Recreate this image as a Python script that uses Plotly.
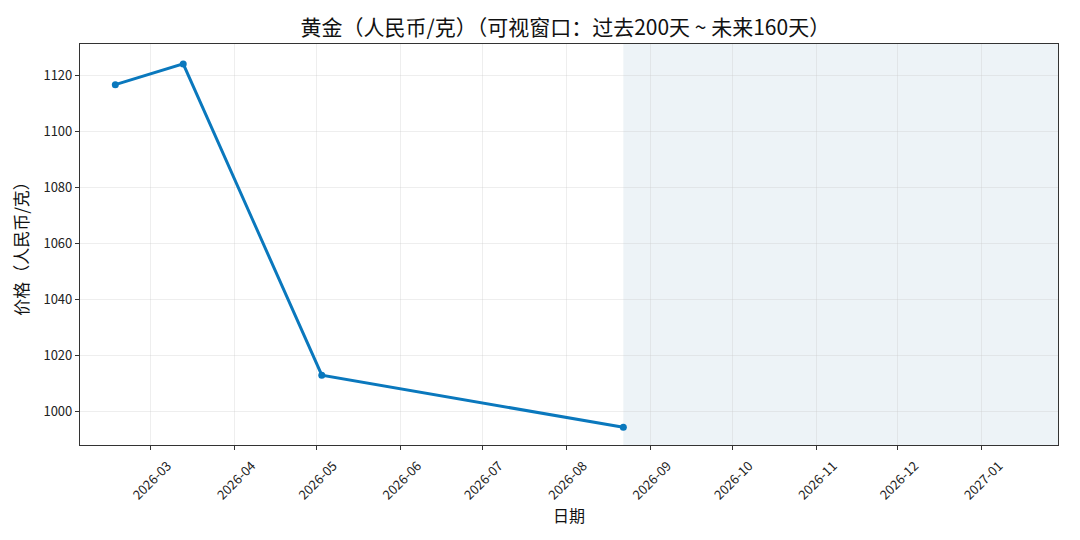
import plotly.graph_objects as go
import pandas as pd

# gold price observations (CNY per gram)
dates = ["2026-02-16", "2026-03-13", "2026-05-03", "2026-08-22"]
prices = [1116.6, 1124.0, 1013.1, 994.5]

# visible window: 200 days back, 160 days ahead of the last observation
today = pd.Timestamp("2026-08-22")
win_start = today - pd.Timedelta(days=200)
win_end = today + pd.Timedelta(days=160)

month_ticks = pd.date_range("2026-03-01", "2027-01-01", freq="MS")
month_labels = [d.strftime("%Y-%m") for d in month_ticks]
y_ticks = [1000, 1020, 1040, 1060, 1080, 1100, 1120]

FONT = "Noto Sans CJK SC, Noto Sans, sans-serif"

fig = go.Figure()

# future part of window
fig.add_vrect(x0=today, x1=win_end, fillcolor="rgb(237,243,247)", opacity=1,
              line_width=0, layer="below")

fig.add_trace(go.Scatter(
    x=dates, y=prices,
    mode="lines+markers",
    line=dict(color="#0a78bd", width=3),
    marker=dict(size=7, color="#0a78bd"),
    showlegend=False,
))

axis_common = dict(
    showline=True, linecolor="#333", linewidth=1.2, mirror=True,
    ticks="outside", ticklen=4, tickcolor="#333",
    showgrid=True, gridcolor="rgba(200,200,200,0.3)", gridwidth=1,
    zeroline=False, automargin=False,
    tickfont=dict(size=13, color="#222", family=FONT),
)

# page body adds an 8px offset, margins below compensate for it
fig.update_layout(
    width=1080, height=540,
    margin=dict(l=72, r=30, t=36, b=103),
    plot_bgcolor="white", paper_bgcolor="white",
    font=dict(family=FONT, color="#111"),
    title=dict(text="黄金（人民币/克）（可视窗口：过去200天 ~ 未来160天）",
               x=0.516, xanchor="center", y=0.963, yanchor="middle",
               font=dict(size=21, color="#111")),
    xaxis=dict(
        type="date", range=[win_start, win_end],
        tickvals=month_ticks, ticktext=month_labels,
        tickangle=-45, ticklabelshift=17, ticklabelstandoff=3,
        title=dict(text="日期", font=dict(size=16), standoff=7),
        **axis_common,
    ),
    yaxis=dict(
        range=[988.2, 1131.1],
        tickvals=y_ticks,
        title=dict(text="价格（人民币/克）", font=dict(size=17), standoff=10),
        **axis_common,
    ),
)

fig.write_html("out.html")
